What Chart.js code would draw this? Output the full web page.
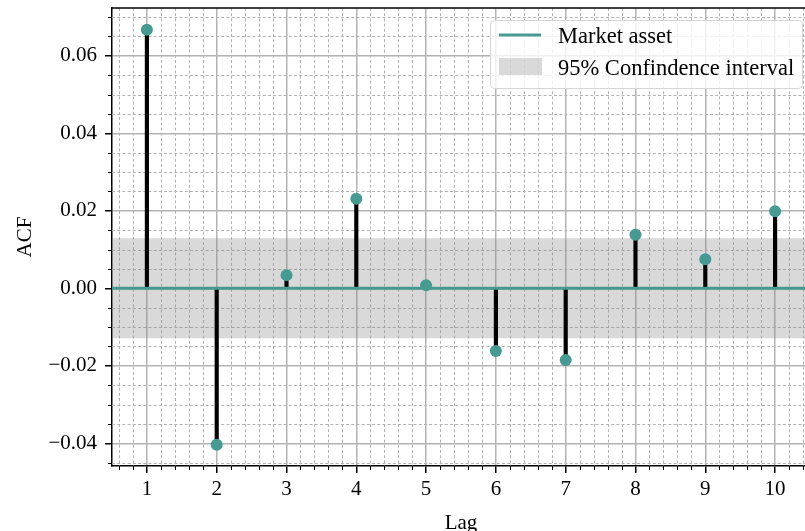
<!DOCTYPE html>
<html>
<head>
<meta charset="utf-8">
<script src="https://cdn.jsdelivr.net/npm/chart.js@4"></script>
<style>
  html, body { margin: 0; padding: 0; background: #ffffff; overflow: hidden; }
  #wrap { width: 805px; height: 531px; overflow: hidden; position: relative; }
  canvas { display: block; }
</style>
</head>
<body>
<div id="wrap"><canvas id="c" width="816" height="531" style="width:816px;height:531px"></canvas></div>
<script>
// ---- data ----
const lags = [1, 2, 3, 4, 5, 6, 7, 8, 9, 10];
const acfValues = [0.0667, -0.0404, 0.0034, 0.0231, 0.0008, -0.0162, -0.0185, 0.0138, 0.0075, 0.0199];
const confBound = 0.0129;
const xTicks = [1, 2, 3, 4, 5, 6, 7, 8, 9, 10];
const xTickLabels = ['1', '2', '3', '4', '5', '6', '7', '8', '9', '10'];
const yTicks = [-0.04, -0.02, 0.00, 0.02, 0.04, 0.06];
const yTickLabels = ['\u22120.04', '\u22120.02', '0.00', '0.02', '0.04', '0.06'];
const seriesLabel = 'Market asset';
const bandLabel = '95% Confindence interval';
const xRange = [0.5, 10.5];
const yRange = [-0.04586, 0.07234];

// ---- styles ----
const TEAL = '#469a91';
const BAND = 'rgba(128,128,128,0.30)';
const GRID = '#b3b3b3';
const FONT = "'Liberation Serif', 'Times New Roman', serif";
Chart.defaults.font.family = FONT;
Chart.defaults.font.size = 21;
Chart.defaults.color = '#000000';

const minorPlugin = {
  id: 'minorGrid',
  beforeDatasetsDraw(chart) {
    const {ctx, chartArea: a, scales: {x, y}} = chart;
    ctx.save();
    ctx.strokeStyle = GRID;
    ctx.lineWidth = 1;
    ctx.setLineDash([3, 2.2]);
    for (let i = Math.ceil(xRange[0] / 0.2); i * 0.2 <= xRange[1] + 1e-9; i++) {
      const v = i * 0.2;
      if (Math.abs(v - Math.round(v)) < 1e-6) continue;
      const px = Math.round(x.getPixelForValue(v)) + 0.5;
      ctx.beginPath(); ctx.moveTo(px, a.top); ctx.lineTo(px, a.bottom); ctx.stroke();
    }
    for (let i = Math.ceil(yRange[0] / 0.005); i * 0.005 <= yRange[1] + 1e-9; i++) {
      const v = i * 0.005;
      if (Math.abs(v / 0.02 - Math.round(v / 0.02)) < 1e-6) continue;
      const py = Math.round(y.getPixelForValue(v)) + 0.5;
      ctx.beginPath(); ctx.moveTo(a.left, py); ctx.lineTo(a.right, py); ctx.stroke();
    }
    ctx.setLineDash([]);
    ctx.strokeStyle = '#000';
    ctx.lineWidth = 1;
    for (let i = Math.ceil(xRange[0] / 0.2); i * 0.2 <= xRange[1] + 1e-9; i++) {
      const v = i * 0.2;
      if (Math.abs(v - Math.round(v)) < 1e-6) continue;
      const px = Math.round(x.getPixelForValue(v)) + 0.5;
      ctx.beginPath(); ctx.moveTo(px, a.bottom); ctx.lineTo(px, a.bottom + 4); ctx.stroke();
    }
    for (let i = Math.ceil(yRange[0] / 0.005); i * 0.005 <= yRange[1] + 1e-9; i++) {
      const v = i * 0.005;
      if (Math.abs(v / 0.02 - Math.round(v / 0.02)) < 1e-6) continue;
      const py = Math.round(y.getPixelForValue(v)) + 0.5;
      ctx.beginPath(); ctx.moveTo(a.left - 4, py); ctx.lineTo(a.left, py); ctx.stroke();
    }
    ctx.restore();
  },
  afterDraw(chart) {
    const {ctx, chartArea: a} = chart;
    ctx.save();
    ctx.strokeStyle = '#000';
    ctx.lineWidth = 1.5;
    ctx.beginPath(); ctx.moveTo(a.left - 0.75, a.top); ctx.lineTo(a.right, a.top); ctx.stroke();
    const bx = 490.5, by = 20.5, bw = 312, bh = 68, r = 4;
    ctx.fillStyle = 'rgba(255,255,255,0.8)';
    ctx.strokeStyle = '#d6d6d6';
    ctx.lineWidth = 1;
    ctx.beginPath();
    ctx.moveTo(bx + r, by);
    ctx.lineTo(bx + bw - r, by); ctx.arcTo(bx + bw, by, bx + bw, by + r, r);
    ctx.lineTo(bx + bw, by + bh - r); ctx.arcTo(bx + bw, by + bh, bx + bw - r, by + bh, r);
    ctx.lineTo(bx + r, by + bh); ctx.arcTo(bx, by + bh, bx, by + bh - r, r);
    ctx.lineTo(bx, by + r); ctx.arcTo(bx, by, bx + r, by, r);
    ctx.closePath(); ctx.fill(); ctx.stroke();
    ctx.strokeStyle = TEAL; ctx.lineWidth = 3;
    ctx.beginPath(); ctx.moveTo(499, 35); ctx.lineTo(541, 35); ctx.stroke();
    ctx.fillStyle = BAND;
    ctx.fillRect(499, 58, 43, 17);
    ctx.fillStyle = '#000';
    ctx.font = "22.5px " + FONT;
    ctx.textBaseline = 'alphabetic';
    ctx.textAlign = 'left';
    ctx.fillText(seriesLabel, 558, 43);
    ctx.fillText(bandLabel, 558, 75);
    ctx.restore();
  }
};

new Chart(document.getElementById('c'), {
  data: {
    datasets: [
      {
        type: 'line', label: bandLabel, order: 5,
        data: [{x: xRange[0], y: confBound}, {x: xRange[1], y: confBound}],
        borderWidth: 0, pointRadius: 0, fill: '+1', backgroundColor: BAND, borderColor: 'rgba(0,0,0,0)'
      },
      {
        type: 'line', label: 'lower', order: 6,
        data: [{x: xRange[0], y: -confBound}, {x: xRange[1], y: -confBound}],
        borderWidth: 0, pointRadius: 0, fill: false, borderColor: 'rgba(0,0,0,0)'
      },
      {
        type: 'bar', label: 'stems', order: 3,
        data: lags.map((l, i) => ({x: l, y: acfValues[i]})),
        backgroundColor: '#000000', barThickness: 3.5, borderWidth: 0
      },
      {
        type: 'line', label: seriesLabel, order: 2,
        data: [{x: xRange[0], y: 0}, {x: xRange[1], y: 0}],
        borderColor: TEAL, borderWidth: 3, pointRadius: 0, fill: false
      },
      {
        type: 'scatter', label: 'points', order: 1,
        data: lags.map((l, i) => ({x: l, y: acfValues[i]})),
        backgroundColor: TEAL, borderColor: TEAL, pointRadius: 6, pointBorderWidth: 0
      }
    ]
  },
  options: {
    responsive: false,
    animation: false,
    devicePixelRatio: 1,
    layout: { padding: { top: 8, right: 0, left: 0, bottom: 0 } },
    plugins: { legend: { display: false }, tooltip: { enabled: false } },
    scales: {
      x: {
        type: 'linear', min: xRange[0], max: xRange[1], offset: false,
        afterBuildTicks: s => { s.ticks = xTicks.map(v => ({value: v})); },
        afterFit: s => { s.height = 65; s.paddingLeft = 0; s.paddingRight = 0; },
        ticks: {
          padding: 4, maxRotation: 0, autoSkip: false,
          callback: v => { const i = xTicks.indexOf(v); return i >= 0 ? xTickLabels[i] : ''; }
        },
        grid: { offset: false, color: GRID, lineWidth: 1.5, tickLength: 7, tickColor: '#000', tickWidth: 1.5 },
        border: { color: '#000', width: 1.5 },
        title: { display: true, text: 'Lag', padding: { top: 0, bottom: -5 } }
      },
      y: {
        type: 'linear', min: yRange[0], max: yRange[1],
        afterBuildTicks: s => { s.ticks = yTicks.map(v => ({value: v})); },
        afterFit: s => { s.width = 112; s.paddingTop = 0; s.paddingBottom = 0; },
        ticks: {
          padding: 8,
          callback: v => { const i = yTicks.findIndex(t => Math.abs(t - v) < 1e-9); return i >= 0 ? yTickLabels[i] : ''; }
        },
        grid: { offset: false, color: GRID, lineWidth: 1.5, tickLength: 7, tickColor: '#000', tickWidth: 1.5 },
        border: { color: '#000', width: 1.5 },
        title: { display: true, text: 'ACF', padding: { top: 13, bottom: 0 } }
      }
    }
  },
  plugins: [minorPlugin]
});
</script>
</body>
</html>
